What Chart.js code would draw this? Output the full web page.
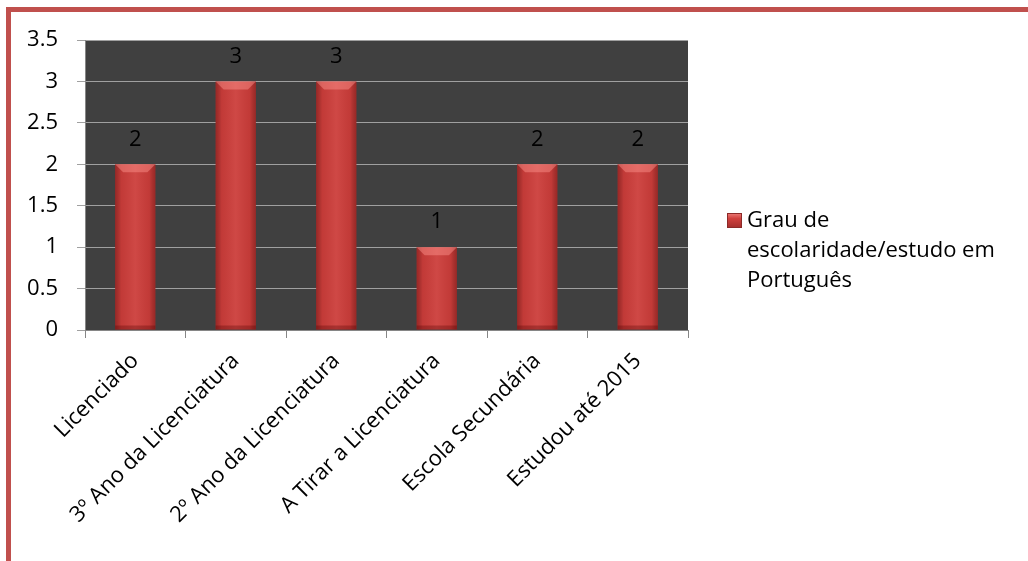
<!DOCTYPE html>
<html>
<head>
<meta charset="utf-8">
<script src="https://cdn.jsdelivr.net/npm/chart.js@4.4.0/dist/chart.umd.min.js"></script>
<style>
  html, body { margin: 0; padding: 0; background: #fff; }
  .frame { position: relative; width: 1028px; height: 561px; overflow: hidden; }
  .frame canvas { position: absolute; left: 0; top: 0; }
  .edge-top { position: absolute; left: 6px; top: 7px; right: 0; height: 5px; background: #c0504d; }
  .edge-left { position: absolute; left: 6px; top: 7px; width: 5px; bottom: 0; background: #c0504d; }
  .legend { position: absolute; left: 727px; top: 203px; font-family: "Open Sans", sans-serif; font-size: 22px; line-height: 30px; color: #000; }
  .legend .box { position: absolute; left: 0; top: 10px; width: 15px; height: 15px;
    background: linear-gradient(to bottom, #e8736f 0%, #d0413e 35%, #a8302e 100%); border: 1px solid #8c2a28; box-sizing: border-box; }
  .legend .txt { margin-left: 20px; }
</style>
</head>
<body>
<div class="frame">
  <canvas id="barChart" width="1028" height="561"></canvas>
  <div class="edge-top"></div>
  <div class="edge-left"></div>
  <div class="legend" id="legend"><span class="box"></span><div class="txt"></div></div>
</div>
<script>
document.addEventListener('DOMContentLoaded', () => {

const categories = ['Licenciado', '3º Ano da Licenciatura', '2º Ano da Licenciatura', 'A Tirar a Licenciatura', 'Escola Secundária', 'Estudou até 2015'];
const values = [2, 3, 3, 1, 2, 2];
const seriesName = ['Grau de', 'escolaridade/estudo em', 'Português'];
const yTicks = [0, 0.5, 1, 1.5, 2, 2.5, 3, 3.5];

// legend text, one line per entry
document.querySelector('#legend .txt').innerHTML = seriesName.join('<br>');

const font = { family: '"Open Sans", sans-serif', size: 22 };

// dark plot background
const plotBg = {
  id: 'plotBg',
  beforeDraw(chart) {
    const { ctx, chartArea: a } = chart;
    ctx.save();
    ctx.fillStyle = '#404040';
    ctx.fillRect(a.left, a.top, a.right - a.left, a.bottom - a.top);
    ctx.restore();
  }
};

// shading on the bars + value labels above
const barLook = {
  id: 'barLook',
  afterDatasetsDraw(chart) {
    const ctx = chart.ctx;
    const meta = chart.getDatasetMeta(0);
    meta.data.forEach((bar, i) => {
      const w = bar.width, left = bar.x - w / 2, top = bar.y, h = bar.base - bar.y;
      ctx.save();
      let g = ctx.createLinearGradient(left, 0, left + w, 0);
      g.addColorStop(0, 'rgba(60,0,0,0.35)');
      g.addColorStop(0.15, 'rgba(0,0,0,0.05)');
      g.addColorStop(0.5, 'rgba(255,255,255,0.06)');
      g.addColorStop(0.85, 'rgba(0,0,0,0.05)');
      g.addColorStop(1, 'rgba(60,0,0,0.35)');
      ctx.fillStyle = g;
      ctx.fillRect(left, top, w, h);
      // bevel on top
      const b = Math.min(8, h / 2);
      ctx.beginPath();
      ctx.moveTo(left, top);
      ctx.lineTo(left + w, top);
      ctx.lineTo(left + w - b, top + b);
      ctx.lineTo(left + b, top + b);
      ctx.closePath();
      ctx.fillStyle = 'rgba(255,150,145,0.45)';
      ctx.fill();
      // darker bottom
      ctx.fillStyle = 'rgba(80,0,0,0.3)';
      ctx.fillRect(left, bar.base - 4, w, 4);
      ctx.restore();

      ctx.save();
      ctx.fillStyle = '#000';
      ctx.font = font.size + 'px ' + font.family;
      ctx.textAlign = 'center';
      ctx.textBaseline = 'middle';
      ctx.fillText(values[i], bar.x, bar.y - 25);
      ctx.restore();
    });
  }
};

new Chart(document.getElementById('barChart').getContext('2d'), {
  type: 'bar',
  data: {
    labels: categories,
    datasets: [{
      label: seriesName.join(' '),
      data: values,
      backgroundColor: '#cc3d3a',
      borderWidth: 0,
      categoryPercentage: 1,
      barPercentage: 0.4
    }]
  },
  options: {
    responsive: false,
    animation: false,
    devicePixelRatio: 1,
    layout: { padding: { left: 12, top: 40, right: 340, bottom: 0 } },
    plugins: { legend: { display: false }, tooltip: { enabled: false } },
    scales: {
      x: {
        grid: { offset: true, drawOnChartArea: false, drawTicks: true, tickLength: 8, color: '#868686' },
        border: { color: '#868686', width: 1 },
        ticks: { color: '#000', font: font, maxRotation: 45, minRotation: 45, padding: 10 },
        afterFit(s) { s.height = 231; }
      },
      y: {
        min: 0,
        max: 3.5,
        afterBuildTicks(s) { s.ticks = yTicks.map(v => ({ value: v })); },
        grid: { color: '#a0a0a0', drawTicks: true, tickLength: 8 },
        border: { color: '#868686', width: 1 },
        ticks: { color: '#000', font: font, padding: 19, callback: v => String(v) },
        afterFit(s) { s.width = 73; }
      }
    }
  },
  plugins: [plotBg, barLook]
});

});
</script>
</body>
</html>
